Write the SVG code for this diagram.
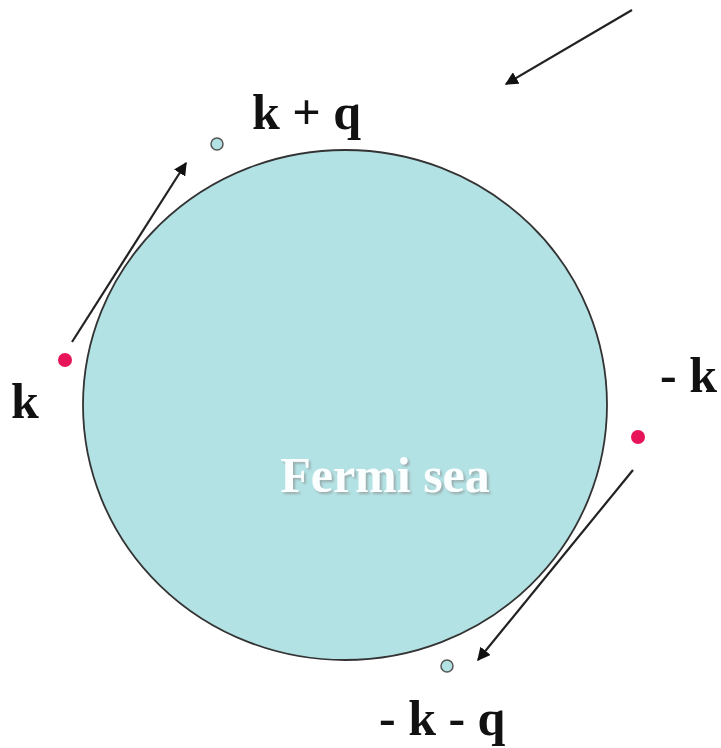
<svg xmlns="http://www.w3.org/2000/svg" width="721" height="748" viewBox="0 0 721 748">
<style>
.lbl{font-family:"Liberation Serif",serif;font-weight:bold;font-size:50px;fill:#111;}
.arr{stroke:#222;stroke-width:2.2;fill:none;marker-end:url(#ah);}
.pink{fill:#e8145a;}
.hole{fill:#b3e2e4;stroke:#555;stroke-width:1.5;}
</style>
<defs>
<marker id="ah" viewBox="0 0 10 10" refX="9" refY="5" markerWidth="6" markerHeight="6" orient="auto">
<path d="M0,0 L10,5 L0,10 Z" fill="#111"/>
</marker>
<filter id="sh" x="-10%" y="-20%" width="120%" height="150%">
<feDropShadow dx="2" dy="2" stdDeviation="0.8" flood-color="#888" flood-opacity="0.6"/>
</filter>
</defs>
<rect width="721" height="748" fill="#fff"/>
<g id="fermi-sea">
<ellipse cx="345" cy="405" rx="262" ry="255" fill="#b3e2e4" stroke="#333" stroke-width="1.8"/>
<text x="385" y="492" text-anchor="middle" font-family="Liberation Serif,serif" font-weight="bold" font-size="50" fill="#fbfefe" filter="url(#sh)">Fermi sea</text>
</g>
<g id="connectors">
<line class="arr" x1="632" y1="10" x2="506" y2="84"/>
<line class="arr" x1="72" y1="342" x2="186" y2="163"/>
<line class="arr" x1="633" y1="470" x2="478" y2="660"/>
</g>
<g id="k">
<circle class="pink" cx="65" cy="360" r="7"/>
<text class="lbl" x="11" y="418">k</text>
</g>
<g id="k-plus-q">
<circle class="hole" cx="217" cy="144" r="6"/>
<text class="lbl" x="252" y="129">k + q</text>
</g>
<g id="minus-k">
<circle class="pink" cx="638" cy="437" r="7"/>
<text class="lbl" x="660" y="392">- k</text>
</g>
<g id="minus-k-minus-q">
<circle class="hole" cx="447" cy="666" r="6"/>
<text class="lbl" x="379" y="735">- k - q</text>
</g>
</svg>
